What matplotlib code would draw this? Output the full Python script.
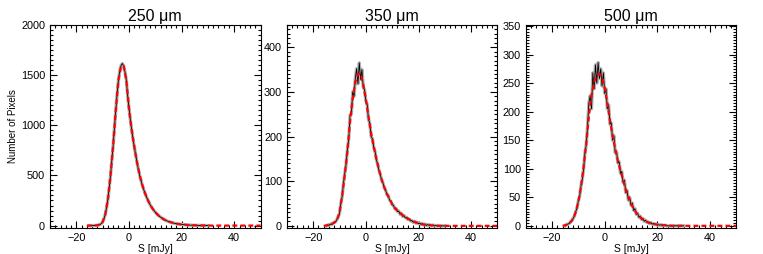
import numpy as np
import matplotlib
matplotlib.use("Agg")
import matplotlib.pyplot as plt
from matplotlib.ticker import MultipleLocator

plt.rcParams["font.family"] = ["Liberation Sans", "DejaVu Sans"]

titles = ["250 \u03bcm", "350 \u03bcm", "500 \u03bcm"]

# fitted curves, 1 mJy steps
fit_x = list(range(-16, 51))
fit_250 = [0, 0, 0, 1, 3, 10, 35, 110, 260, 500, 800, 1150, 1450, 1585, 1590, 1450,
           1170, 960, 790, 640, 510, 410, 330, 265, 210, 168, 134, 106, 84, 66, 52, 41,
           32, 25, 19, 15, 12, 9, 7, 5, 4, 3, 2, 2, 1, 1, 1] + [0] * 20
fit_350 = [0, 1, 2, 4, 7, 13, 30, 68, 115, 168, 235, 284, 322, 340, 341, 318,
           283, 245, 207, 178, 150, 125, 104, 86, 72, 60, 49, 40, 34, 29, 24, 20,
           16, 13, 10, 8, 6, 4, 3, 2, 2, 1, 1] + [0] * 24
fit_500 = [0, 1, 3, 6, 12, 24, 42, 68, 103, 145, 192, 228, 252, 264, 266, 260,
           242, 215, 185, 158, 135, 114, 97, 80, 63, 50, 39, 30, 23, 17, 13, 10,
           7, 5, 4, 3, 2, 2, 1, 1, 1] + [0] * 26

# histograms, 0.5 mJy bins from -15 to 30
hist_x = list(np.arange(-15, 30.5, 0.5))
hist_250 = [0, 0, 0, 0, 1, 2, 3, 6, 10, 20, 35, 68, 110, 180, 260, 375,
            500, 650, 800, 980, 1150, 1310, 1450, 1540, 1595, 1615, 1590, 1530, 1450, 1300,
            1175, 1060, 960, 870, 790, 712, 640, 572, 510, 458, 410, 368, 330, 296, 265,
            236, 210, 188, 168, 150, 134, 119, 106, 95, 84, 75, 66, 59, 52, 46,
            41, 36, 32, 28, 25, 22, 19, 17, 15, 13, 12, 10, 9, 8, 7,
            6, 5, 4, 4, 3, 3, 2, 2, 2, 1, 1, 1, 1, 1, 0, 0]
hist_350 = [0, 2, 1, 4, 3, 6, 8, 9, 14, 20, 28, 50, 66, 95, 118, 138,
            172, 195, 248, 250, 300, 290, 330, 352, 318, 365, 328, 350, 310, 305,
            280, 272, 238, 230, 200, 195, 175, 166, 148, 138, 124, 115, 102, 96, 86,
            80, 70, 68, 58, 55, 47, 46, 38, 39, 32, 33, 26, 28, 21, 23,
            18, 19, 14, 15, 11, 12, 8, 10, 6, 8, 5, 6, 3, 5, 2,
            4, 1, 3, 1, 2, 0, 2, 0, 1, 0, 1, 0, 0, 0, 0, 0]
hist_500 = [0, 2, 3, 4, 7, 9, 13, 17, 25, 31, 44, 52, 70, 82, 100, 128,
            142, 175, 215, 228, 205, 268, 240, 282, 250, 286, 258, 275, 245, 268,
            232, 240, 205, 212, 178, 180, 150, 158, 128, 130, 110, 112, 92, 95, 76,
            80, 58, 62, 45, 50, 36, 40, 27, 30, 20, 22, 15, 17, 11, 13,
            8, 10, 6, 7, 4, 6, 3, 4, 2, 3, 1, 2, 1, 2, 0,
            1, 1, 0, 0, 0, 0, 0, 0, 0, 0, 0, 0, 0, 0, 0, 0]

fits = [fit_250, fit_350, fit_500]
hists = [hist_250, hist_350, hist_500]
ylims = [(-25, 2000), (-5, 450), (-4, 352)]
ymajor = [500, 100, 50]
yminor = [50, 10, 5]
lefts = [0.0655, 0.376, 0.689]

fig = plt.figure(figsize=(7.63, 2.54), dpi=100)

for i in range(3):
    ax = fig.add_axes([lefts[i], 0.102, 0.276, 0.80])
    ax.plot(hist_x, hists[i], color="#b0b0b0", lw=2.4)
    ax.plot(hist_x, hists[i], color="black", lw=0.6)
    ax.plot(fit_x, fits[i], color="#ff0000", lw=1.6, dashes=(2.2, 1.4))
    ax.set_xlim(-30, 50)
    ax.set_ylim(ylims[i])
    ax.xaxis.set_major_locator(MultipleLocator(20))
    ax.xaxis.set_minor_locator(MultipleLocator(2))
    ax.yaxis.set_major_locator(MultipleLocator(ymajor[i]))
    ax.yaxis.set_minor_locator(MultipleLocator(yminor[i]))
    ax.tick_params(which="both", direction="in", top=True, right=True, labelsize=7.8, width=0.8)
    ax.tick_params(which="major", length=5)
    ax.tick_params(which="minor", length=2.5)
    for s in ax.spines.values():
        s.set_linewidth(0.8)
    ax.set_title(titles[i], fontsize=11.5, pad=3)
    ax.set_xlabel("S [mJy]", fontsize=7.5, labelpad=1)
    if i == 0:
        ax.set_ylabel("Number of Pixels", fontsize=7, labelpad=2)

fig.savefig("out.png", dpi=100)
